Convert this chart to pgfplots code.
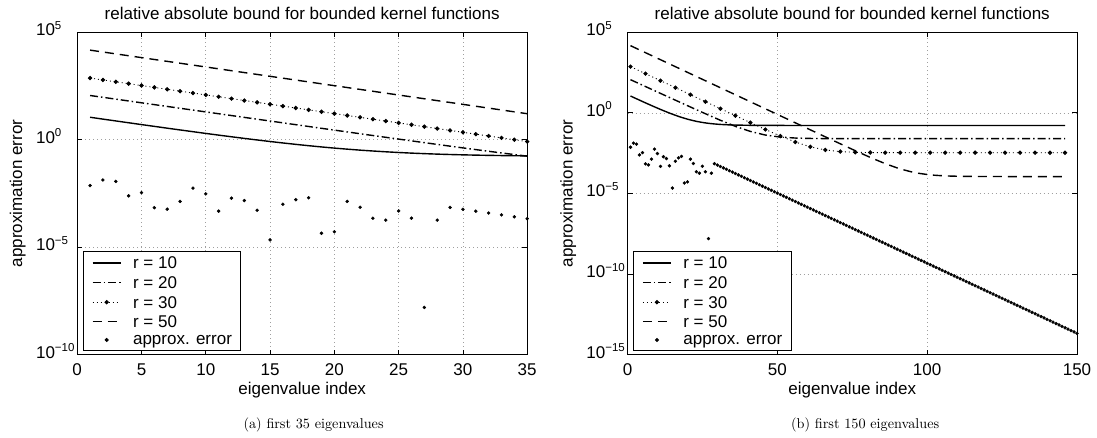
\documentclass[border=0pt]{standalone}
\usepackage{fontspec}
\usepackage{graphicx}
\usepackage{pgfplots}
\pgfplotsset{compat=1.18}
\newfontfamily\hv{Liberation Sans}
\newfontfamily\capfont{lmroman10-regular}[Extension=.otf]
\newcommand{\hvf}{\hv\fontsize{17}{20}\selectfont}
% power-of-ten tick label; the exponent hangs to the right of "10"
\newcommand{\ex}[1]{10\rlap{\raisebox{6.5pt}{\fontsize{11.5}{12}\selectfont #1}}}

\pgfplotsset{
  matlab/.style={
    scale only axis,
    axis line style={line width=1pt},
    tick style={line width=0.8pt, black},
    tick align=inside,
    major tick length=5pt,
    grid=major,
    major grid style={gray!75, line width=0.6pt, dash pattern=on 1pt off 3pt},
    font=\hvf,
    tick label style={font=\hvf},
    xticklabel style={anchor=base, inner sep=0pt, yshift=-20.5pt},
    yticklabel style={anchor=base east, inner sep=0pt, xshift=-22pt, yshift=-3.5pt},
    title style={at={(0.5,1)}, anchor=base, yshift=7pt, inner sep=0pt, font=\hvf},
    xlabel style={at={(0.5,0)}, anchor=base, yshift=-39.5pt, inner sep=0pt, font=\hvf},
    ylabel style={at={(-0.132,0.5)}, anchor=center, inner sep=0pt, font=\hvf},
    title={relative absolute bound for bounded kernel functions},
    xlabel={eigenvalue index},
    ylabel={approximation error},
    legend cell align=left,
    legend image code/.code={\draw[mark repeat=2,mark phase=2,##1] plot coordinates {(0pt,0pt) (14pt,0pt) (28pt,0pt)};},
    legend style={at={(0,0)}, anchor=south west, xshift=5.3pt, yshift=3.7pt,
      draw=black, line width=0.9pt, fill=white, inner xsep=9pt, inner ysep=6pt,
      row sep=7.7pt, nodes={inner sep=0pt, text depth=0pt, font=\hvf},
      /tikz/every odd column/.append style={column sep=11.7pt}},
  },
  r10/.style={black, line width=1.4pt, solid, mark=none},
  r20/.style={black, line width=1.4pt, mark=none, dash pattern=on 8pt off 3pt on 1.5pt off 3pt},
  r30/.style={black, line width=0.9pt, dash pattern=on 1pt off 3pt, mark=*, mark size=1.7pt, mark options={solid, fill=black}},
  r50/.style={black, line width=1.4pt, mark=none, dash pattern=on 9pt off 6pt},
  err/.style={black, only marks, mark=*, mark size=1.5pt, mark options={solid, fill=black}},
}

\begin{document}
\begin{tikzpicture}
\useasboundingbox (0,0) rectangle (1097pt,438pt);

% ---------------- first 35 eigenvalues ----------------
\begin{axis}[matlab, at={(77.2pt,83.3pt)}, anchor=south west,
  width=450pt, height=322.4pt,
  xmin=0, xmax=35, ymin=-10, ymax=5,
  xtick={0,5,10,15,20,25,30,35},
  xticklabels={0,5,10,15,20,25,30,35},
  ytick={-10,-5,0,5},
  yticklabels={\ex{−10},\ex{−5},\ex{0},\ex{5}},
]
\addplot[r10] coordinates {(1,1.047) (2,0.961) (3,0.876) (4,0.791) (5,0.706) (6,0.623) (7,0.539) (8,0.457) (9,0.376) (10,0.295) (11,0.216) (12,0.139) (13,0.063) (14,-0.010) (15,-0.081) (16,-0.149) (17,-0.214) (18,-0.276) (19,-0.334) (20,-0.388) (21,-0.437) (22,-0.483) (23,-0.523) (24,-0.560) (25,-0.593) (26,-0.621) (27,-0.646) (28,-0.668) (29,-0.686) (30,-0.702) (31,-0.715) (32,-0.726) (33,-0.735) (34,-0.743) (35,-0.750)};
\addlegendentry{r = 10}
\addplot[r20] coordinates {(1,2.060) (2,1.975) (3,1.890) (4,1.805) (5,1.720) (6,1.635) (7,1.550) (8,1.465) (9,1.381) (10,1.296) (11,1.211) (12,1.126) (13,1.041) (14,0.956) (15,0.872) (16,0.787) (17,0.702) (18,0.618) (19,0.533) (20,0.449) (21,0.365) (22,0.281) (23,0.197) (24,0.114) (25,0.031) (26,-0.052) (27,-0.134) (28,-0.216) (29,-0.298) (30,-0.378) (31,-0.458) (32,-0.536) (33,-0.613) (34,-0.688) (35,-0.762)};
\addlegendentry{r = 20}
\addplot[r30] coordinates {(1,2.870) (2,2.783) (3,2.696) (4,2.609) (5,2.522) (6,2.435) (7,2.348) (8,2.261) (9,2.174) (10,2.087) (11,2.000) (12,1.913) (13,1.826) (14,1.739) (15,1.652) (16,1.565) (17,1.478) (18,1.391) (19,1.304) (20,1.217) (21,1.130) (22,1.043) (23,0.956) (24,0.869) (25,0.782) (26,0.696) (27,0.609) (28,0.522) (29,0.435) (30,0.348) (31,0.261) (32,0.175) (33,0.088) (34,0.002) (35,-0.084)};
\addlegendentry{r = 30}
\addplot[r50] coordinates {(1,4.170) (2,4.083) (3,3.996) (4,3.909) (5,3.822) (6,3.735) (7,3.648) (8,3.561) (9,3.474) (10,3.387) (11,3.300) (12,3.213) (13,3.126) (14,3.039) (15,2.952) (16,2.865) (17,2.778) (18,2.691) (19,2.604) (20,2.517) (21,2.430) (22,2.343) (23,2.256) (24,2.169) (25,2.082) (26,1.995) (27,1.908) (28,1.821) (29,1.734) (30,1.647) (31,1.560) (32,1.473) (33,1.386) (34,1.299) (35,1.212)};
\addlegendentry{r = 50}
\addplot[err] coordinates {(1,-2.13) (2,-1.87) (3,-1.94) (4,-2.61) (5,-2.46) (6,-3.16) (7,-3.23) (8,-2.87) (9,-2.25) (10,-2.52) (11,-3.32) (12,-2.72) (13,-2.83) (14,-3.28) (15,-4.66) (16,-3.00) (17,-2.79) (18,-2.70) (19,-4.35) (20,-4.28) (21,-2.87) (22,-3.14) (23,-3.65) (24,-3.74) (25,-3.31) (26,-3.65) (27,-7.80) (28,-3.74) (29,-3.150) (30,-3.237) (31,-3.324) (32,-3.411) (33,-3.498) (34,-3.585) (35,-3.672)};
\addlegendentry{approx. error}
\end{axis}

% ---------------- first 150 eigenvalues ----------------
\begin{axis}[matlab, at={(627.5pt,83.3pt)}, anchor=south west,
  width=449.5pt, height=322.4pt,
  xmin=0, xmax=150, ymin=-15, ymax=5,
  xtick={0,50,100,150},
  xticklabels={0,50,100,150},
  ytick={-15,-10,-5,0,5},
  yticklabels={\ex{−15},\ex{−10},\ex{−5},\ex{0},\ex{5}},
]
\addplot[r10] coordinates {(1,1.047) (2,0.961) (3,0.876) (4,0.791) (5,0.706) (6,0.623) (7,0.539) (8,0.457) (9,0.376) (10,0.295) (11,0.216) (12,0.139) (13,0.063) (14,-0.010) (15,-0.081) (16,-0.149) (17,-0.214) (18,-0.276) (19,-0.334) (20,-0.388) (21,-0.437) (22,-0.483) (23,-0.523) (24,-0.560) (25,-0.593) (26,-0.621) (27,-0.646) (28,-0.668) (29,-0.686) (30,-0.702) (31,-0.715) (32,-0.726) (33,-0.735) (34,-0.743) (35,-0.750) (40,-0.769) (45,-0.776) (50,-0.778) (55,-0.780) (146,-0.780)};
\addlegendentry{r = 10}
\addplot[r20] coordinates {(1,2.060) (6,1.635) (11,1.211) (16,0.787) (21,0.365) (26,-0.052) (31,-0.458) (36,-0.833) (41,-1.150) (46,-1.374) (51,-1.501) (56,-1.560) (61,-1.585) (66,-1.594) (71,-1.598) (76,-1.600) (146,-1.600)};
\addlegendentry{r = 20}
\addplot[r30] coordinates {(1,2.870) (6,2.435) (11,2.000) (16,1.565) (21,1.130) (26,0.696) (31,0.261) (36,-0.173) (41,-0.604) (46,-1.029) (51,-1.438) (56,-1.808) (61,-2.105) (66,-2.299) (71,-2.399) (76,-2.443) (81,-2.460) (86,-2.466) (91,-2.469) (96,-2.470) (101,-2.470) (106,-2.470) (111,-2.470) (116,-2.470) (121,-2.470) (126,-2.470) (131,-2.470) (136,-2.470) (141,-2.470) (146,-2.470)};
\addlegendentry{r = 30}
\addplot[r50] coordinates {(1,4.170) (6,3.735) (11,3.300) (16,2.865) (21,2.430) (26,1.995) (31,1.560) (36,1.125) (41,0.690) (46,0.255) (51,-0.180) (56,-0.615) (61,-1.050) (66,-1.484) (71,-1.916) (76,-2.344) (81,-2.761) (86,-3.150) (91,-3.480) (96,-3.716) (101,-3.849) (106,-3.910) (111,-3.935) (116,-3.944) (121,-3.948) (126,-3.949) (131,-3.950) (136,-3.950) (141,-3.950) (146,-3.950)};
\addlegendentry{r = 50}
\addplot[err] coordinates {(1,-2.13) (2,-1.87) (3,-1.94) (4,-2.61) (5,-2.46) (6,-3.16) (7,-3.23) (8,-2.87) (9,-2.25) (10,-2.52) (11,-3.32) (12,-2.72) (13,-2.83) (14,-3.28) (15,-4.66) (16,-3.00) (17,-2.79) (18,-2.70) (19,-4.35) (20,-4.28) (21,-2.87) (22,-3.14) (23,-3.65) (24,-3.74) (25,-3.31) (26,-3.65) (27,-7.80) (28,-3.74)
(29,-3.150) (30,-3.237) (31,-3.324) (32,-3.411) (33,-3.498) (34,-3.585) (35,-3.672) (36,-3.759) (37,-3.846) (38,-3.933) (39,-4.020) (40,-4.107) (41,-4.194) (42,-4.281) (43,-4.368) (44,-4.455) (45,-4.542) (46,-4.629) (47,-4.716) (48,-4.803) (49,-4.890) (50,-4.977) (51,-5.064) (52,-5.151) (53,-5.238) (54,-5.325) (55,-5.412) (56,-5.499) (57,-5.586) (58,-5.673) (59,-5.760) (60,-5.847) (61,-5.934) (62,-6.021) (63,-6.108) (64,-6.195) (65,-6.282) (66,-6.369) (67,-6.456) (68,-6.543) (69,-6.630) (70,-6.717) (71,-6.804) (72,-6.891) (73,-6.978) (74,-7.065) (75,-7.152) (76,-7.239) (77,-7.326) (78,-7.413) (79,-7.500) (80,-7.587) (81,-7.674) (82,-7.761) (83,-7.848) (84,-7.935) (85,-8.022) (86,-8.109) (87,-8.196) (88,-8.283) (89,-8.370) (90,-8.457) (91,-8.544) (92,-8.631) (93,-8.718) (94,-8.805) (95,-8.892) (96,-8.979) (97,-9.066) (98,-9.153) (99,-9.240) (100,-9.327) (101,-9.414) (102,-9.501) (103,-9.588) (104,-9.675) (105,-9.762) (106,-9.849) (107,-9.936) (108,-10.023) (109,-10.110) (110,-10.197) (111,-10.284) (112,-10.371) (113,-10.458) (114,-10.545) (115,-10.632) (116,-10.719) (117,-10.806) (118,-10.893) (119,-10.980) (120,-11.067) (121,-11.154) (122,-11.241) (123,-11.328) (124,-11.415) (125,-11.502) (126,-11.589) (127,-11.676) (128,-11.763) (129,-11.850) (130,-11.937) (131,-12.024) (132,-12.111) (133,-12.198) (134,-12.285) (135,-12.372) (136,-12.459) (137,-12.546) (138,-12.633) (139,-12.720) (140,-12.807) (141,-12.894) (142,-12.981) (143,-13.068) (144,-13.155) (145,-13.242) (146,-13.329) (147,-13.416) (148,-13.503) (149,-13.590) (150,-13.677)};
\addlegendentry{approx. error}
\end{axis}

% sub-figure captions
\node[anchor=base, inner sep=0pt] at (313.6pt,9.5pt)
  {\resizebox{140pt}{!}{\capfont (a) first 35 eigenvalues}};
\node[anchor=base, inner sep=0pt] at (865.2pt,9.5pt)
  {\resizebox{148pt}{!}{\capfont (b) first 150 eigenvalues}};
\end{tikzpicture}
\end{document}
